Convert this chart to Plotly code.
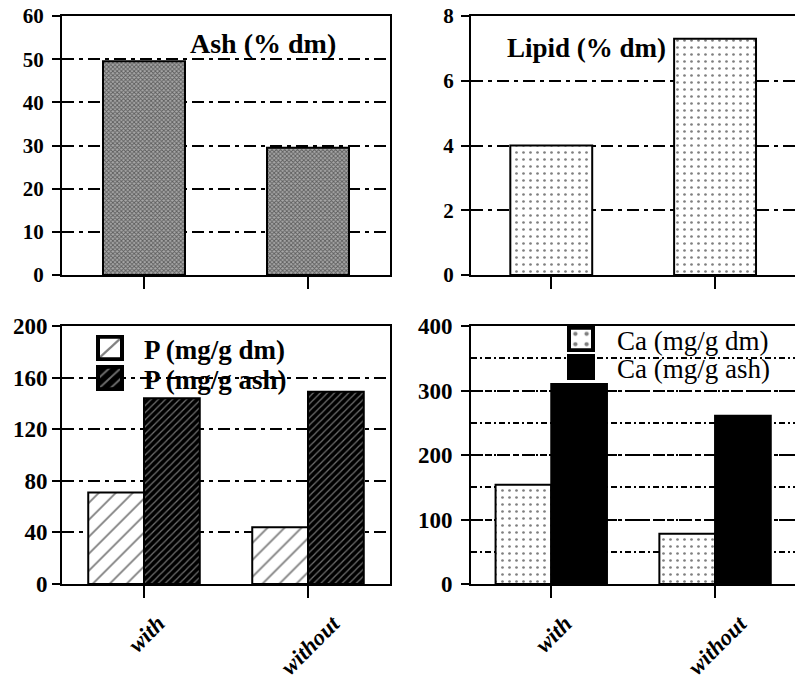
import plotly.graph_objects as go

categories = ["with", "without"]
ash_pct_dm = [49.5, 29.5]
lipid_pct_dm = [4.0, 7.3]
p_mg_g_dm = [71, 44]
p_mg_g_ash = [144, 149]
ca_mg_g_dm = [154, 78]
ca_mg_g_ash = [310, 261]

ash_ticks = [0, 10, 20, 30, 40, 50, 60]
lipid_ticks = [0, 2, 4, 6, 8]
p_ticks = [0, 40, 80, 120, 160, 200]
ca_ticks = [0, 100, 200, 300, 400]

W, H = 795, 682
SERIF = "Liberation Serif"

def px_x(a, b):
    return [a / W, b / W]

def px_y(top, bottom):
    return [1 - bottom / H, 1 - top / H]

fig = go.Figure()

dots = dict(shape=".", size=7, solidity=0.12, fgcolor="black", bgcolor="white")

fig.add_trace(go.Bar(
    x=categories, y=ash_pct_dm, xaxis="x", yaxis="y", width=0.5, showlegend=False,
    marker=dict(color="#909090", line=dict(color="black", width=2),
                pattern=dict(shape="x", size=3, solidity=0.5, fgcolor="#111111", bgcolor="#a8a8a8")),
))
fig.add_trace(go.Bar(
    x=categories, y=lipid_pct_dm, xaxis="x2", yaxis="y2", width=0.5, showlegend=False,
    marker=dict(color="white", line=dict(color="black", width=2), pattern=dots),
))
fig.add_trace(go.Bar(
    x=categories, y=p_mg_g_dm, xaxis="x3", yaxis="y3", name="P (mg/g dm)", legend="legend",
    marker=dict(color="white", line=dict(color="black", width=2),
                pattern=dict(shape="/", size=12, solidity=0.15, fgcolor="black", bgcolor="white")),
))
fig.add_trace(go.Bar(
    x=categories, y=p_mg_g_ash, xaxis="x3", yaxis="y3", name="P (mg/g ash)", legend="legend2",
    marker=dict(color="black", line=dict(color="black", width=2),
                pattern=dict(shape="/", size=5, solidity=0.25, fgcolor="#dddddd", bgcolor="black")),
))
fig.add_trace(go.Bar(
    x=categories, y=ca_mg_g_dm, xaxis="x4", yaxis="y4", name="Ca (mg/g dm)", legend="legend3",
    marker=dict(color="white", line=dict(color="black", width=2), pattern=dots),
))
fig.add_trace(go.Bar(
    x=categories, y=ca_mg_g_ash, xaxis="x4", yaxis="y4", name="Ca (mg/g ash)", legend="legend4",
    marker=dict(color="black", line=dict(color="black", width=2)),
))

DASHDOT = "12px,5px,4px,5px"

def xax(domain, rng, anchor):
    return dict(domain=domain, range=rng, anchor=anchor, type="category",
                showline=True, linecolor="black", linewidth=2, mirror=True,
                ticks="outside", ticklen=12, tickwidth=2, tickcolor="black",
                showticklabels=False, showgrid=False, zeroline=False,
                automargin=False, fixedrange=True)

def yax(domain, rng, ticks, anchor, size, standoff):
    return dict(domain=domain, range=rng, anchor=anchor,
                tickmode="array", tickvals=ticks, ticktext=[f"<b>{t}</b>" for t in ticks],
                showline=True, linecolor="black", linewidth=2, mirror=True,
                ticks="outside", ticklen=8, tickwidth=2, tickcolor="black",
                ticklabelstandoff=standoff,
                tickfont=dict(family=SERIF, size=size, color="black"),
                showgrid=True, gridcolor="black", gridwidth=2,
                griddash=DASHDOT, zeroline=False, automargin=False, fixedrange=True)

ytop = px_y(16, 275)
ybot = px_y(326, 584)
xl = px_x(62, 390)
xr = px_x(471, 795)

y4 = yax(ybot, [0, 400], ca_ticks, "x4", 23, 4)
y4["minor"] = dict(dtick=50, showgrid=True, gridcolor="black", gridwidth=2,
                   griddash="6px,3px,2px,3px", ticks="")

def leg(x, ytop_px, size, bold, iw):
    f = dict(family=SERIF, size=size, color="black")
    if bold:
        f["weight"] = "bold"
    return dict(x=x / W, y=1 - ytop_px / H, xanchor="left", yanchor="top", itemwidth=iw,
                bgcolor="rgba(0,0,0,0)", borderwidth=0, font=f)

fig.update_layout(
    width=W, height=H,
    margin=dict(l=0, r=0, t=0, b=0, autoexpand=False),
    paper_bgcolor="white", plot_bgcolor="white",
    barmode="group", bargap=0.32, bargroupgap=0,
    font=dict(family=SERIF, color="black"),
    xaxis=xax(xl, [-0.5, 1.5], "y"),
    yaxis=yax(ytop, [0, 60], ash_ticks, "x", 21, 4),
    xaxis2=xax(xr, [-0.49, 1.488], "y2"),
    yaxis2=yax(ytop, [0, 8], lipid_ticks, "x2", 21, 3),
    xaxis3=xax(xl, [-0.5, 1.5], "y3"),
    yaxis3=yax(ybot, [0, 200], p_ticks, "x3", 23, 0),
    xaxis4=xax(xr, [-0.49, 1.488], "y4"),
    yaxis4=y4,
    legend=leg(76, 324, 27, True, 58),
    legend2=leg(76, 354, 27, True, 58),
    legend3=leg(545, 315, 27, False, 62),
    legend4=leg(545, 343, 27, False, 62),
    showlegend=True,
)

annots = [
    dict(text="<b>Ash (% dm)</b>", xref="paper", yref="paper", x=188 / W, y=1 - 44 / H,
         xanchor="left", yanchor="middle", showarrow=False,
         font=dict(family=SERIF, size=28, color="black")),
    dict(text="<b>Lipid (% dm)</b>", xref="paper", yref="paper", x=505 / W, y=1 - 48 / H,
         xanchor="left", yanchor="middle", showarrow=False,
         font=dict(family=SERIF, size=27, color="black")),
]
for xr_ref in ["x3", "x4"]:
    for c in categories:
        annots.append(dict(
            text=f"<b><i>{c}</i></b>", xref=xr_ref, yref="paper", x=c, y=1 - 608 / H,
            xanchor="center", yanchor="top", xshift=2, textangle=-45, showarrow=False,
            font=dict(family=SERIF, size=23, color="black"),
        ))
fig.update_layout(annotations=annots)

# page without default body margin; enlarge the legend key swatches like the original
post_js = """
document.body.style.margin = '0';
document.body.style.padding = '0';
var gd = document.getElementById('{plot_id}');
function enlarge(){
  gd.querySelectorAll('.legendpoints path').forEach(function(p){
    var t = p.getAttribute('transform') || '';
    if (t.indexOf('scale') < 0) { p.setAttribute('transform', t + ' scale(2,1.85)'); }
  });
}
enlarge();
gd.on('plotly_afterplot', enlarge);
"""

fig.write_html("out.html", post_script=post_js, config={"displayModeBar": False})
